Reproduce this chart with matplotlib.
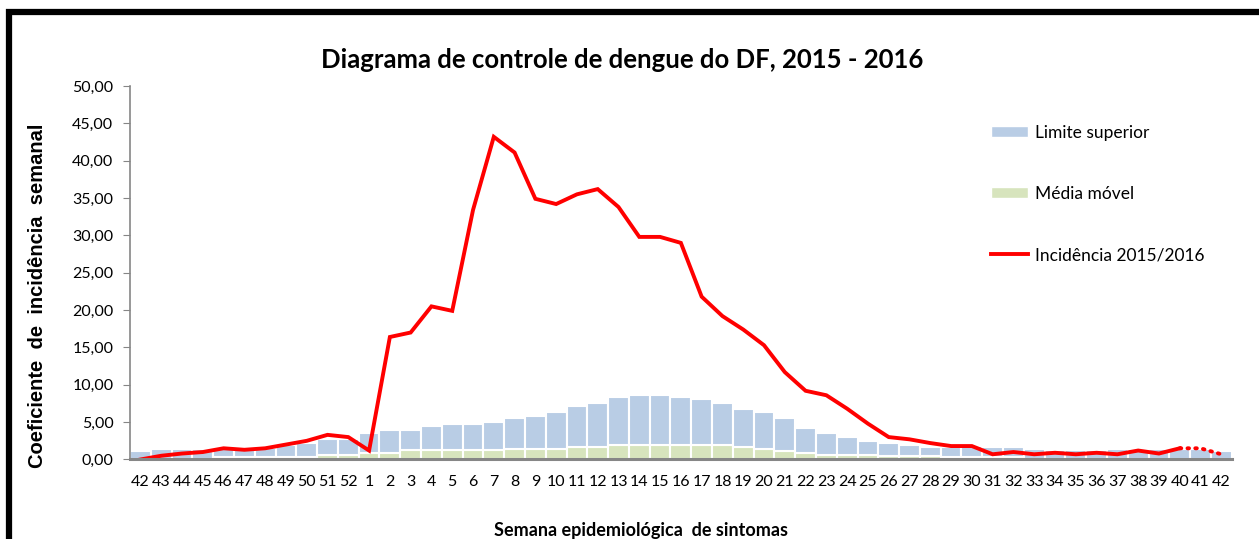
import numpy as np
import matplotlib
matplotlib.use("Agg")
from matplotlib import pyplot as plt
from matplotlib.patches import Rectangle, Patch
from matplotlib.lines import Line2D

semanas = ["42", "43", "44", "45", "46", "47", "48", "49", "50", "51", "52"] + [str(i) for i in range(1, 43)]

limite_superior = [1.2, 1.4, 1.4, 1.4, 1.5, 1.6, 1.6, 1.9, 2.2, 2.7, 2.7,
                   3.5, 4.0, 4.0, 4.5, 4.8, 4.8, 5.0, 5.55, 5.8, 6.3,
                   7.1, 7.6, 8.4, 8.6, 8.6, 8.4, 8.1, 7.6, 6.8, 6.3,
                   5.5, 4.25, 3.5, 3.0, 2.5, 2.2, 1.95, 1.7, 1.7, 1.8,
                   1.7, 1.7, 1.4, 1.3, 1.3, 1.3, 1.4, 1.4, 1.4, 1.4,
                   1.4, 1.1]

media_movel = [0.1, 0.1, 0.1, 0.1, 0.35, 0.35, 0.35, 0.35, 0.35, 0.65, 0.65,
               0.9, 0.9, 1.23, 1.23, 1.23, 1.23, 1.23, 1.45, 1.45, 1.45,
               1.67, 1.67, 1.94, 1.94, 1.94, 1.94, 1.9, 1.9, 1.67, 1.4,
               1.18, 0.9, 0.64, 0.64, 0.64, 0.43, 0.43, 0.43, 0.3, 0.3,
               0.3, 0.3, 0.1, 0.1, 0.1, 0.1, 0.1, 0.1, 0.1, 0.1,
               0.1, 0.1]

incidencia = [0.0, 0.5, 0.8, 1.0, 1.5, 1.3, 1.5, 2.0, 2.5, 3.3, 3.0,
              1.2, 16.4, 17.0, 20.5, 19.9, 33.4, 43.2, 41.1, 34.9, 34.2,
              35.5, 36.2, 33.8, 29.8, 29.8, 29.0, 21.8, 19.2, 17.4, 15.3,
              11.7, 9.2, 8.6, 6.8, 4.8, 3.0, 2.7, 2.2, 1.8, 1.8,
              0.7, 1.0, 0.7, 0.9, 0.7, 0.9, 0.7, 1.2, 0.8, 1.5]
projecao = [1.5, 1.5, 0.7]   # semanas 40, 41, 42 (pontilhado)

azul = "#B9CDE5"
verde = "#D7E4BD"
vermelho = "#FF0000"
fonte = ["Lato", "DejaVu Sans"]

fig = plt.figure(figsize=(12.59, 5.39), dpi=100)
ax = fig.add_axes([0.1033, 0.1475, 0.875, 0.6929])

x = np.arange(len(semanas))
lim = np.array(limite_superior)
med = np.array(media_movel)

ax.bar(x, med, width=1.0, color=verde, edgecolor="white", linewidth=1.5, zorder=2)
ax.bar(x, lim - med, bottom=med, width=1.0, color=azul, edgecolor="white", linewidth=1.5, zorder=2)

xi = x[:len(incidencia)]
ax.plot(xi, incidencia, color=vermelho, lw=2.8, solid_joinstyle="miter", zorder=3)
xp = x[len(incidencia) - 1:]
ax.plot(xp, projecao, color=vermelho, lw=2.8, linestyle=(0, (0.4, 1.6)),
        dash_capstyle="round", zorder=3)

ax.set_xlim(-0.5, len(semanas) - 0.5)
ax.set_ylim(0, 50)
ax.set_yticks(np.arange(0, 51, 5))
ax.set_yticklabels([f"{v:.2f}".replace(".", ",") for v in np.arange(0, 51, 5)],
                   family=fonte, fontsize=11.5)
ax.set_xticks(x)
ax.set_xticklabels(semanas, family=fonte, fontsize=11.5)
ax.tick_params(axis="x", length=0, pad=11)
ax.tick_params(axis="y", length=5, color="#868686", pad=7)

for s in ["top", "right"]:
    ax.spines[s].set_visible(False)
ax.spines["left"].set_color("#868686")
ax.spines["left"].set_linewidth(1.2)
ax.spines["bottom"].set_color("#868686")
ax.spines["bottom"].set_linewidth(2.2)
ax.spines["bottom"].set_zorder(4)

fig.text(0.494, 0.888, "Diagrama de controle de dengue do DF, 2015 - 2016",
         ha="center", va="center", fontsize=18.5, fontweight="bold", family=fonte)
fig.text(0.509, 0.015, "Semana epidemiológica  de sintomas",
         ha="center", va="center", fontsize=13, fontweight="bold", family=fonte)
fig.text(0.030, 0.451, "Coeficiente  de  incidência  semanal",
         ha="center", va="center", rotation=90, fontsize=14.5, fontweight="bold",
         family=["Liberation Sans", "DejaVu Sans"])

handles = [Patch(facecolor=azul, edgecolor="white"),
           Patch(facecolor=verde, edgecolor="white"),
           Line2D([0], [0], color=vermelho, lw=2.8)]
ax.legend(handles, ["Limite superior", "Média móvel", "Incidência 2015/2016"],
          loc="upper left", bbox_to_anchor=(0.767, 0.938), frameon=False,
          prop={"family": fonte, "size": 12.5}, labelspacing=2.6,
          handlelength=2.15, handleheight=0.6, handletextpad=0.4)

fig.patches.append(Rectangle((0.0072, -0.05), 1.2, 1.027, transform=fig.transFigure,
                             fill=False, edgecolor="black", linewidth=4.5))

plt.savefig("out.png", dpi=100)
